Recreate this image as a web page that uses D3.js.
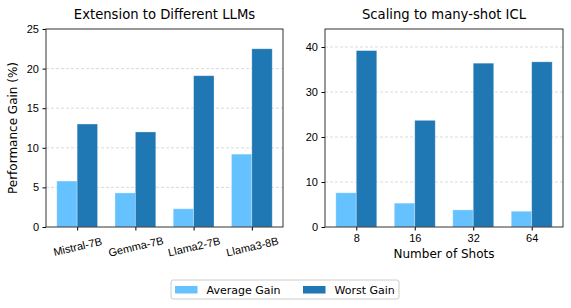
<!DOCTYPE html>
<html lang="en">
<head>
<meta charset="UTF-8" />
<title>Gain charts</title>
<script src="https://cdnjs.cloudflare.com/ajax/libs/d3/7.8.2/d3.min.js"></script>
<style>
  body { margin: 0; padding: 0; background: #fff; }
  svg { display: block; font-family: "DejaVu Sans", sans-serif; }
  .grid line { stroke: #b0b0b0; stroke-opacity: 0.6; stroke-dasharray: 3,2; stroke-width: 0.8px; }
  .tick text { fill: #000; font-size: 11px; }
  .tick line { stroke: #000; }
</style>
</head>
<body>
<svg id="chart" width="571" height="308"></svg>
<script>
// ---- data ----
const models = ["Mistral-7B", "Gemma-7B", "Llama2-7B", "Llama3-8B"];
const modelAvg = [5.8, 4.3, 2.3, 9.2];
const modelWorst = [13.0, 12.0, 19.1, 22.5];

const shots = ["8", "16", "32", "64"];
const shotAvg = [7.6, 5.3, 3.8, 3.5];
const shotWorst = [39.2, 23.7, 36.4, 36.7];

const seriesNames = ["Average Gain", "Worst Gain"];
const colors = ["#66c2ff", "#1f77b4"];

const svg = d3.select("#chart");

// draws one panel of grouped bars
function panel(opt) {
  const { left, right, top, bottom, cats, avg, worst, ymax, yticks, title, xlabel, ylabel, rotate } = opt;
  const g = svg.append("g");

  // group positions in data units: 0..n-1, bar width 0.35, 5% margins
  const n = cats.length;
  const lo = -0.35, hi = n - 1 + 0.35, pad = (hi - lo) * 0.05;
  const x = d3.scaleLinear().domain([lo - pad, hi + pad]).range([left, right]);
  const y = d3.scaleLinear().domain([0, ymax]).range([bottom, top]);
  const bw = 0.35;

  // grid
  g.append("g").attr("class", "grid")
    .selectAll("line").data(yticks.filter(t => t > 0 && t < ymax))
    .join("line")
    .attr("x1", left).attr("x2", right)
    .attr("y1", d => y(d)).attr("y2", d => y(d));

  const rows = cats.map((c, i) => ({ i, vals: [avg[i], worst[i]] }));
  g.append("g").selectAll("g").data(rows).join("g")
    .selectAll("rect").data(d => d.vals.map((v, k) => ({ i: d.i, k, v })))
    .join("rect")
    .attr("x", d => x(d.i - bw + d.k * bw))
    .attr("width", d => x(bw) - x(0))
    .attr("y", d => y(d.v))
    .attr("height", d => y(0) - y(d.v))
    .attr("fill", d => colors[d.k])
    .attr("stroke", "#ffffff")
    .attr("stroke-opacity", 0.35)
    .attr("stroke-width", 0.8);

  // axes
  const ya = g.append("g").attr("transform", `translate(${left},0)`)
    .call(d3.axisLeft(y).tickValues(yticks).tickSize(3.5).tickPadding(3.5));
  ya.select(".domain").remove();

  const xa = g.append("g").attr("transform", `translate(0,${bottom})`)
    .call(d3.axisBottom(x).tickValues(d3.range(n)).tickFormat(i => cats[i]).tickSize(3.5).tickPadding(3.5));
  xa.select(".domain").remove();
  if (rotate) {
    xa.selectAll(".tick text")
      .attr("text-anchor", "middle")
      .attr("dominant-baseline", "central")
      .attr("dy", 0)
      .attr("y", 0)
      .attr("transform", "translate(0,19.5) rotate(-13)");
  }

  // frame
  g.append("rect")
    .attr("x", left).attr("y", top)
    .attr("width", right - left).attr("height", bottom - top)
    .attr("fill", "none").attr("stroke", "#333").attr("stroke-width", 1);

  g.append("text")
    .attr("x", (left + right) / 2).attr("y", 18.5)
    .attr("text-anchor", "middle").attr("font-size", 13.2)
    .text(title);

  if (xlabel) {
    g.append("text")
      .attr("x", (left + right) / 2).attr("y", 258)
      .attr("text-anchor", "middle").attr("font-size", 12)
      .text(xlabel);
  }
  if (ylabel) {
    g.append("text")
      .attr("transform", `translate(17,${(top + bottom) / 2}) rotate(-90)`)
      .attr("text-anchor", "middle").attr("font-size", 12)
      .text(ylabel);
  }
}

panel({
  left: 46, right: 283, top: 29, bottom: 227,
  cats: models, avg: modelAvg, worst: modelWorst,
  ymax: 25, yticks: [0, 5, 10, 15, 20, 25],
  title: "Extension to Different LLMs",
  ylabel: "Performance Gain (%)", rotate: true
});

panel({
  left: 325, right: 563, top: 29, bottom: 227,
  cats: shots, avg: shotAvg, worst: shotWorst,
  ymax: 44, yticks: [0, 10, 20, 30, 40],
  title: "Scaling to many-shot ICL",
  xlabel: "Number of Shots"
});

// legend
const leg = svg.append("g");
leg.append("rect")
  .attr("x", 171).attr("y", 280).attr("width", 228).attr("height", 19)
  .attr("rx", 2).attr("fill", "#fff").attr("stroke", "#ccc").attr("stroke-width", 1);
const items = leg.selectAll("g.item").data(seriesNames).join("g")
  .attr("class", "item")
  .attr("transform", (d, i) => `translate(${i === 0 ? 175 : 303},0)`);
items.append("rect")
  .attr("x", 0).attr("y", 286).attr("width", 22.5).attr("height", 7.5)
  .attr("fill", (d, i) => colors[i]);
items.append("text")
  .attr("x", 31.5).attr("y", 293.5).attr("font-size", 11)
  .text(d => d);
</script>
</body>
</html>
